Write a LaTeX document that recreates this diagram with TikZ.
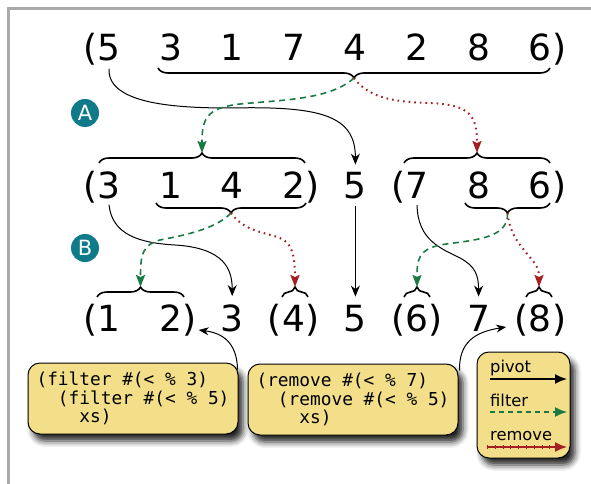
\documentclass[tikz,border=0pt]{standalone}
\usepackage{fontspec}
\setmainfont{DejaVu Sans}
\newfontfamily\monofont{DejaVu Sans Mono}
\usetikzlibrary{decorations.pathreplacing,arrows.meta,calc,shadows.blur}
\definecolor{boxfill}{HTML}{F3DF8A}
\definecolor{fgreen}{HTML}{1A7A44}
\definecolor{fred}{HTML}{A31F22}
\definecolor{tealc}{HTML}{0F7A8A}
\definecolor{framegray}{HTML}{AAAAAA}
\begin{document}
\begin{tikzpicture}[x=1pt,y=-1pt,
  dig/.style={font=\fontsize{36}{40}\selectfont, inner sep=0pt, anchor=base},
  par/.style={font=\fontsize{36}{40}\selectfont, inner sep=0pt},
  brc/.style={decorate, decoration={brace, amplitude=10pt}, line width=1.6pt},
  brcdown/.style={decorate, decoration={brace, mirror, amplitude=10pt}, line width=1.6pt},
  pivotarrow/.style={line width=1pt, -{Stealth[length=11pt,width=9pt]}},
  filterarrow/.style={fgreen, line width=1.6pt, dash pattern=on 6pt off 4.5pt, -{Stealth[length=12pt,width=9pt,inset=2pt]}},
  removearrow/.style={fred, line width=2pt, dash pattern=on 1.6pt off 4pt, -{Stealth[length=12pt,width=9pt,inset=2pt]}},
  callarrow/.style={line width=1pt, -{Stealth[length=10pt,width=8pt]}},
  steplabel/.style={circle, fill=tealc, minimum size=28pt, inner sep=0pt, text=white, font=\fontsize{21}{21}\selectfont},
  codebox/.style={draw, line width=1pt, rounded corners=12pt, fill=boxfill, minimum width=210pt, minimum height=71pt, align=left, inner sep=0pt, font=\monofont\fontsize{17.8}{18.5}\selectfont, blur shadow={shadow xshift=5pt, shadow yshift=-7pt, shadow blur radius=6pt, shadow opacity=85}},
  legbox/.style={draw, line width=1pt, rounded corners=12pt, fill=boxfill, minimum width=93pt, minimum height=106pt, inner sep=0pt, blur shadow={shadow xshift=5pt, shadow yshift=-7pt, shadow blur radius=6pt, shadow opacity=85}},
  legtext/.style={font=\fontsize{16.3}{16}\selectfont, inner sep=0pt, anchor=base west},
  legarrow/.style={line width=1.6pt, -{Latex[length=12pt,width=10pt]}}
]
\useasboundingbox (0,0) rectangle (591,484);
\draw[framegray, line width=2.7pt] (8.7,484) -- (8.7,8.7) -- (591,8.7);

% row 1
\foreach \d/\n [count=\i from 0] in {5/a0,3/a1,1/a2,7/a3,4/a4,2/a5,8/a6,6/a7}
  \node[dig] (\n) at ({109+61.6*\i},61) {\d};
\node[par, anchor=base east] (aL) at (a0.base west) {(};
\node[par, anchor=base west] (aR) at (a7.base east) {)};

% row 2
\foreach \d/\n [count=\i from 0] in {3/b0,1/b1,4/b2,2/b3,5/b4,7/b5,8/b6,6/b7}
  \node[dig] (\n) at ({109+61.6*\i},198) {\d};
\node[par, anchor=base east] (bL0) at (b0.base west) {(};
\node[par, anchor=base west] (bR3) at (b3.base east) {)};
\node[par, anchor=base east] (bL5) at (b5.base west) {(};
\node[par, anchor=base west] (bR7) at (b7.base east) {)};

% row 3
\foreach \d/\n [count=\i from 0] in {1/c0,2/c1,3/c2,4/c3,5/c4,6/c5,7/c6,8/c7}
  \node[dig] (\n) at ({109+61.6*\i},331) {\d};
\node[par, anchor=base east] (cL0) at (c0.base west) {(};
\node[par, anchor=base west] (cR1) at (c1.base east) {)};
\node[par, anchor=base east] (cL3) at (c3.base west) {(};
\node[par, anchor=base west] (cR3) at (c3.base east) {)};
\node[par, anchor=base east] (cL5) at (c5.base west) {(};
\node[par, anchor=base west] (cR5) at (c5.base east) {)};
\node[par, anchor=base east] (cL7) at (c7.base west) {(};
\node[par, anchor=base west] (cR7) at (c7.base east) {)};

% braces
\draw[brcdown] (158,68) -- (550,68);  \coordinate (t0) at (354,78);
\draw[brc] (99,163) -- (305,163);     \coordinate (u1) at (202,153);
\draw[brc] (404,163) -- (550,163);    \coordinate (u2) at (477,153);
\draw[brcdown] (156,203) -- (306,203); \coordinate (d1) at (231,213);
\draw[brcdown] (465,203) -- (550,203); \coordinate (d2) at (507.5,213);
\draw[brc] (97,297) -- (184,297);     \coordinate (e1) at (140.5,287);
\draw[brc] (282,297) -- (308,297);    \coordinate (e2) at (295,287);
\draw[brc] (404,297) -- (430,297);    \coordinate (e3) at (417,287);
\draw[brc] (526,297) -- (552,297);    \coordinate (e4) at (539,287);

% step labels
\node[steplabel] (labA) at (85,113) {A};
\node[steplabel] (labB) at (85,248) {B};

% step A arrows
\draw[pivotarrow] ($(a0.south)+(0,7)$) .. controls (107,105) and (180,108) .. (230,108) .. controls (320,106) and (355.4,115) .. ($(b4.north)+(0,-7)$);
\draw[filterarrow] (t0) .. controls (330,100) and (280,100) .. (240,104) .. controls (205,108) and (202,120) .. (u1);
\draw[removearrow] (t0) .. controls (370,100) and (400,102) .. (430,103) .. controls (470,105) and (477,115) .. (u2);

% step B arrows
\draw[pivotarrow] ($(b0.south)+(0,6)$) .. controls (112,235) and (140,243) .. (175,245) .. controls (225,248) and (232.2,270) .. ($(c2.north)+(0,-8)$);
\draw[pivotarrow] ($(b4.south)+(0,7)$) -- ($(c4.north)+(0,-8)$);
\draw[filterarrow] (d1) .. controls (215,230) and (180,236) .. (160,240) .. controls (142,245) and (140.5,255) .. (e1);
\draw[removearrow] (d1) .. controls (245,232) and (265,232) .. (280,238) .. controls (292,243) and (295,255) .. (e2);
\draw[pivotarrow] ($(b5.south)+(0,7)$) .. controls (418,240) and (440,248) .. (460,258) .. controls (475,266) and (478.6,275) .. ($(c6.north)+(0,-8)$);
\draw[filterarrow] (d2) .. controls (509,240) and (470,240) .. (440,245) .. controls (418,250) and (417,260) .. (e3);
\draw[removearrow] (d2) .. controls (510,235) and (520,245) .. (528,255) .. controls (537,265) and (539,270) .. (e4);

% code boxes
\node[codebox] (box1) at (133,398.5) {(filter \#(< \% 3)\\\ \ (filter \#(< \% 5)\\\ \ \ \ xs)};
\node[codebox] (box2) at (353,399.5) {(remove \#(< \% 7)\\\ \ (remove \#(< \% 5)\\\ \ \ \ xs)};
\draw[callarrow] ($(box1.north east)+(-1,7)$) .. controls (237,342) and (222,333) .. ($(cR1.base east)+(2,-1)$);
\draw[callarrow] ($(box2.north east)+(1,7)$) .. controls (459,342) and (475,332) .. ($(cL7.base west)+(-8,-4)$);

% legend
\node[legbox] (leg) at (523.5,405) {};
\node[legtext] (lpivot) at (490,372) {pivot};
\node[legtext] (lfilter) at (490,406) {filter};
\node[legtext] (lremove) at (490,440) {remove};
\coordinate (pa) at (490,379); \coordinate (pb) at (567,379);
\coordinate (fa) at (490,412); \coordinate (fb) at (567,412);
\coordinate (ra) at (487,447); \coordinate (rb) at (567,447);
\draw[legarrow] (pa) -- (pb);
\draw[legarrow, fgreen, dash pattern=on 5pt off 4pt] (fa) -- (fb);
\draw[legarrow, fred] (ra) -- (rb);
\draw[fred, line width=4pt, dash pattern=on 0.8pt off 7pt] (ra) -- ($(rb)+(-14,0)$);
\end{tikzpicture}
\end{document}
